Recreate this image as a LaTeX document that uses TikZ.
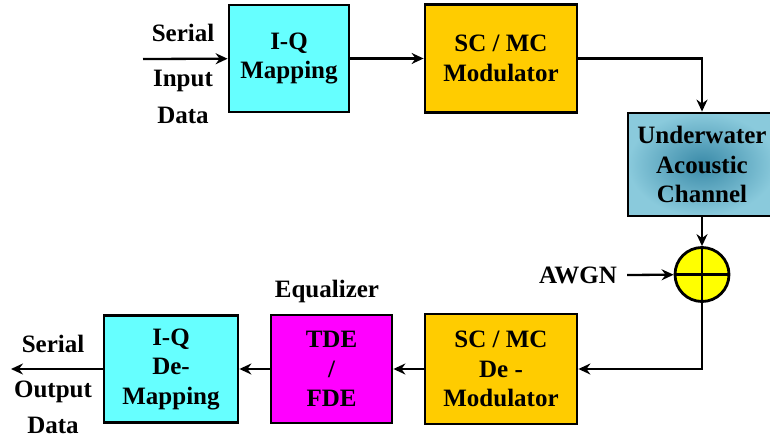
\documentclass[tikz,border=0pt]{standalone}
\usepackage{fontspec}
\setmainfont{Liberation Serif}
\usetikzlibrary{arrows.meta}

\definecolor{iqcyan}{RGB}{102,255,255}
\definecolor{modgold}{RGB}{255,204,0}
\definecolor{eqmagenta}{RGB}{255,0,255}
\definecolor{sumyellow}{RGB}{255,255,0}
\definecolor{chaninner}{RGB}{58,138,168}
\definecolor{chanouter}{RGB}{138,202,220}

\begin{document}
\begin{tikzpicture}[x=1pt, y=-1pt, >={Stealth[length=12pt,width=11pt,inset=4pt]}]

% Styles
\tikzset{
  txt/.style={font=\fontsize{25}{29.5}\selectfont\bfseries, inner sep=0pt},
  block/.style={txt, draw, line width=2.8pt, align=center, minimum width=#1},
  block/.default=120pt,
  link/.style={line width=2.3pt, ->},
  adder/.style={circle, draw, line width=2.8pt, fill=sumyellow, minimum size=54pt, inner sep=0pt}
}

\useasboundingbox (0,0) rectangle (770,438);

% Transmitter
\node[block=120pt, fill=iqcyan, minimum height=107pt] (iqmap) at (289,58.5) {I-Q\\Mapping};
\node[block=152pt, fill=modgold, minimum height=108pt] (mod) at (501,58.5) {SC / MC\\Modulator};

% Channel
\node[block=148pt, minimum height=103pt, inner color=chaninner, outer color=chanouter,
      shading=radial] (chan) at (702,164.5) {Underwater\\Acoustic\\Channel};
\node[adder] (sum) at (702,274.5) {};
\draw[line width=2.8pt] (sum.north) -- (sum.south) (sum.west) -- (sum.east);
\node[txt, anchor=east] (awgn) at (617,275) {AWGN};

% Receiver
\node[block=152pt, fill=modgold, minimum height=110pt] (demod) at (501,369) {SC / MC\\De -\\Modulator};
\node[block=121pt, fill=eqmagenta, minimum height=108pt] (eq) at (331.5,369) {TDE\\/\\FDE};
\node[block=134pt, fill=iqcyan, minimum height=107pt] (iqdemap) at (171,369) {I-Q\\De-\\Mapping};
\node[txt, anchor=base] (eqlbl) at (327,297) {Equalizer};

% Ends
\coordinate (in) at (143,59);
\coordinate (out) at (11,369);
\node[txt, anchor=base] (serin) at (183,42) {Serial};
\node[txt, anchor=base] (inlbl) at (183,87) {Input};
\node[txt, anchor=base] (datin) at (183,124) {Data};
\node[txt, anchor=base] (serout) at (53,352) {Serial};
\node[txt, anchor=base] (outlbl) at (53,397) {Output};
\node[txt, anchor=base] (datout) at (53,433) {Data};

% Connectors
\draw[link] (in) -- (iqmap);
\draw[link] (iqmap) -- (mod);
\draw[link] (mod.east) -| (chan.north);
\draw[link] (chan) -- (sum);
\draw[link] ([xshift=10pt]awgn.east) -- (sum);
\draw[link] (sum.south) |- (demod.east);
\draw[link] (demod) -- (eq);
\draw[link] (eq) -- (iqdemap);
\draw[link] (iqdemap) -- (out);

\end{tikzpicture}
\end{document}
